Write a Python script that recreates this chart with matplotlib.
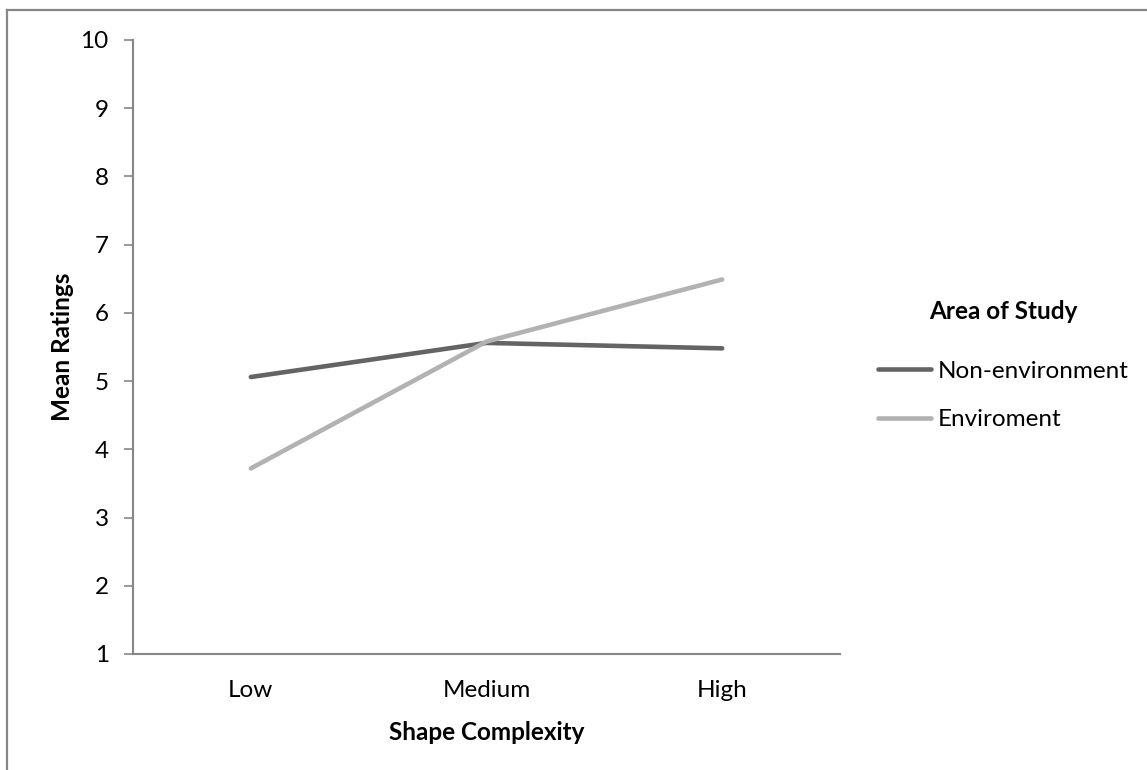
import matplotlib
matplotlib.use("Agg")
import matplotlib.pyplot as plt
from matplotlib.lines import Line2D

plt.rcParams['font.family'] = ['Lato', 'DejaVu Sans']

categories = ["Low", "Medium", "High"]
non_environment = [5.06, 5.56, 5.48]
environment = [3.72, 5.58, 6.49]
series_names = ["Non-environment", "Enviroment"]
y_ticks = list(range(1, 11))

W, H = 1147, 770
FS = 17.5
fig = plt.figure(figsize=(W / 100, H / 100), dpi=100)
ax = fig.add_axes([133 / W, 116 / H, (840 - 133) / W, (654 - 40) / H])

spine_col = "#868686"
dark = "#646464"
light = "#b2b2b2"

x = range(len(categories))
ax.plot(x, non_environment, color=dark, lw=3.3, solid_capstyle="round",
        solid_joinstyle="round", label=series_names[0], zorder=3)
ax.plot(x, environment, color=light, lw=3.3, solid_capstyle="round",
        solid_joinstyle="round", label=series_names[1], zorder=3)

ax.set_xlim(-0.5, len(categories) - 0.5)
ax.set_ylim(1, 10)
ax.set_yticks(y_ticks)
ax.set_xticks(list(x))
ax.set_xticklabels(categories)

for s in ["top", "right"]:
    ax.spines[s].set_visible(False)
for s in ["left", "bottom"]:
    ax.spines[s].set_color(spine_col)
    ax.spines[s].set_linewidth(1.5)

ax.tick_params(axis="y", length=6.5, width=1.2, color=spine_col, labelsize=FS, pad=11)
ax.tick_params(axis="x", length=0, labelsize=FS, pad=19)

ax.set_xlabel("Shape Complexity", fontsize=FS, fontweight="bold", labelpad=14)
ax.set_ylabel("Mean Ratings", fontsize=FS, fontweight="bold", labelpad=5)

handles = [Line2D([], [], color=dark, lw=3.3, solid_capstyle="round"),
           Line2D([], [], color=light, lw=3.3, solid_capstyle="round")]
leg = fig.legend(handles, series_names, title="Area of Study",
                 loc="upper left", bbox_to_anchor=(878 / W, 1 - 300 / H),
                 frameon=False, fontsize=FS, handlelength=2.2, handletextpad=0.25,
                 labelspacing=1.15, borderaxespad=0, borderpad=0)
leg.get_title().set_fontweight("bold")
leg.get_title().set_fontsize(FS)
leg._legend_box.sep = 27

# chart area border (top and left edges)
fig.add_artist(Line2D([7.5 / W, 7.5 / W], [0, 1 - 10 / H], transform=fig.transFigure,
                      color=spine_col, lw=1.6))
fig.add_artist(Line2D([7.5 / W, 1], [1 - 10 / H, 1 - 10 / H], transform=fig.transFigure,
                      color=spine_col, lw=1.6))

fig.savefig("out.png", dpi=100)
